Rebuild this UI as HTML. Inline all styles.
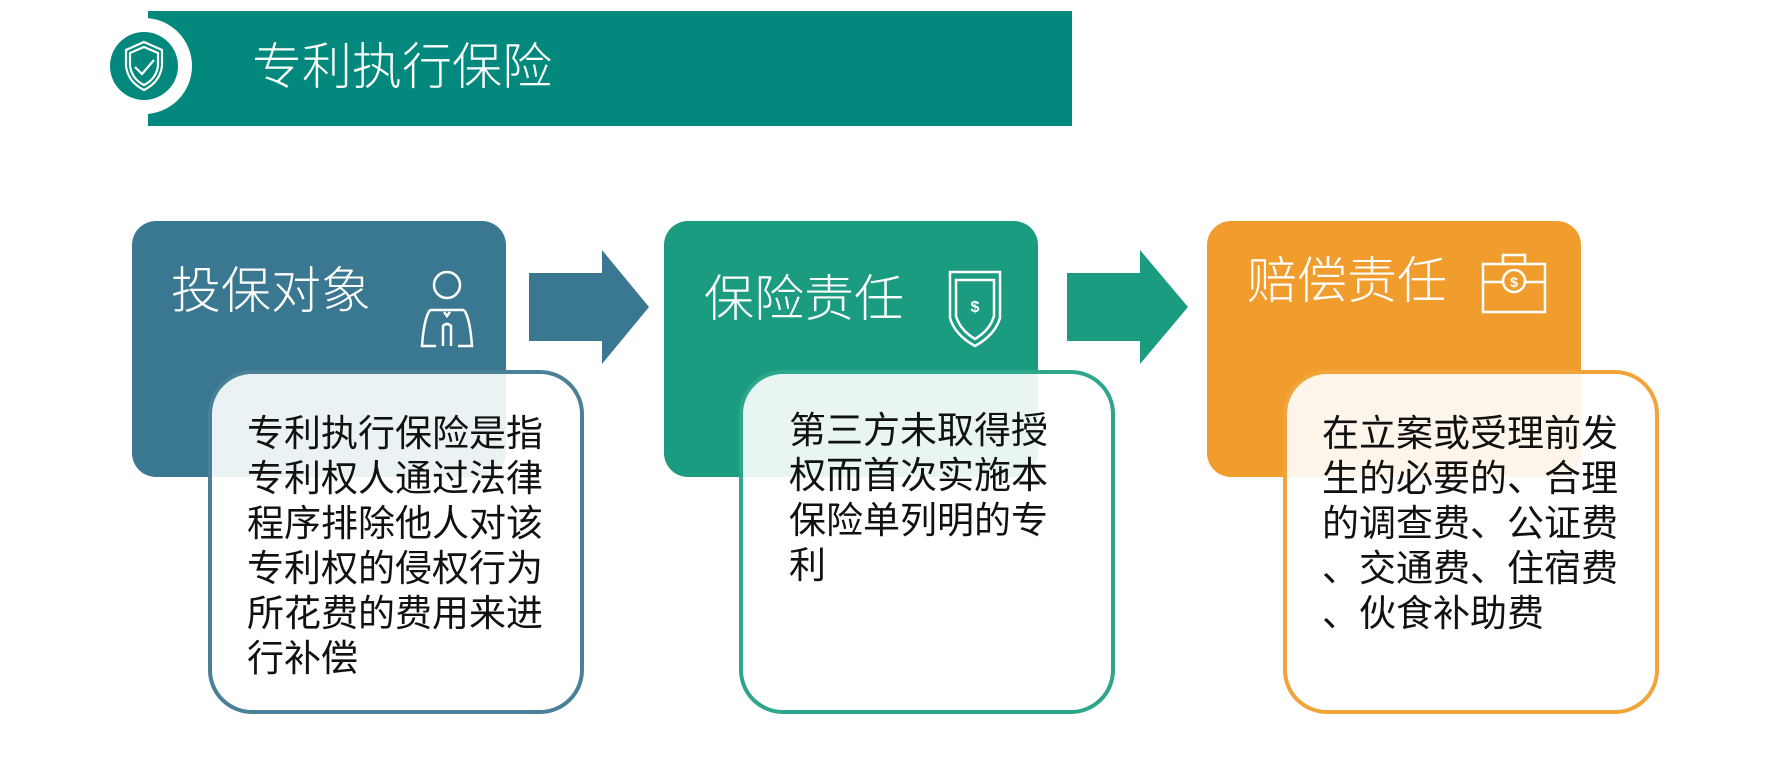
<!DOCTYPE html>
<html><head><meta charset="utf-8"><style>
*{margin:0;padding:0;box-sizing:border-box}
body{width:1768px;height:782px;background:#fff;position:relative;overflow:hidden;font-family:"Liberation Sans","Noto Sans CJK SC",sans-serif}
.a{position:absolute}
.hd{color:#fff;font-size:50px;line-height:50px;white-space:nowrap;font-weight:300}
.wb{position:absolute;top:370px;width:376px;height:344px;border:4px solid;border-radius:44px;background:rgba(255,255,255,0.9)}
.tx{position:absolute;font-size:37px;line-height:45px;color:#111;white-space:nowrap}
</style></head><body>
<div class="a" style="left:148px;top:11px;width:924px;height:115px;background:#02887c"></div>
<div class="a" style="left:96px;top:18px;width:96px;height:96px;border-radius:50%;background:#fff"></div>
<div class="a" style="left:110px;top:32px;width:68px;height:68px;border-radius:50%;background:#02887c"></div>
<svg class="a" style="left:110px;top:32px" width="68" height="68" viewBox="0 0 68 68" fill="none" stroke="#fff" stroke-width="2.2">
<path d="M34 10 L52 18 L52 34 Q50 50 34 58 Q18 50 16 34 L16 18 Z"/>
<path d="M34 15 L48 21 L48 34 Q46 47 34 53 Q22 47 20 34 L20 21 Z"/>
<path d="M25 35 L32 42 L44 28"/>
</svg>
<div class="a hd" style="left:252px;top:42px;font-size:50px">专利执行保险</div>

<div class="a" style="left:132px;top:221px;width:374px;height:256px;border-radius:24px;background:#3a7891"></div>
<div class="a" style="left:664px;top:221px;width:374px;height:256px;border-radius:24px;background:#1b9b80"></div>
<div class="a" style="left:1207px;top:221px;width:374px;height:256px;border-radius:24px;background:#f09d2d"></div>

<svg class="a" style="left:0;top:0" width="1768" height="782">
<polygon points="529,273 602,273 602,250 649,307 602,364 602,341 529,341" fill="#3a7891"/>
<polygon points="1067,273 1140,273 1140,250 1188,307 1140,364 1140,341 1067,341" fill="#1b9b80"/>
<g fill="none" stroke="#fff" stroke-width="2.5">
<circle cx="447" cy="285" r="13"/>
<path d="M430 310 L464 310 M430 310 Q424 318 422 346 L436 346 M464 310 Q470 318 472 346 L458 346 M443 346 L443 326 Q447 322 451 326 L451 346 M444 312 L447 316 L450 312"/>
<path d="M950 272 L1000 272 L1000 318 Q995 335 975 346 Q955 335 950 318 Z"/>
<path d="M956 280 L994 280 L994 316 Q990 330 975 339 Q960 330 956 316 Z"/>
<path d="M1483 264 L1545 264 L1545 312 L1483 312 Z M1483 282 L1545 282 M1503 264 L1503 255 L1525 255 L1525 264"/>
<circle cx="1514" cy="281" r="11" fill="#f09d2d"/>
</g>
<text x="975" y="312" fill="#fff" font-size="16" font-weight="bold" text-anchor="middle" font-family="Liberation Sans">$</text>
<text x="1514" y="287" fill="#fff" font-size="14" font-weight="bold" text-anchor="middle" font-family="Liberation Sans">$</text>
</svg>

<div class="a hd" style="left:171px;top:266px">投保对象</div>
<div class="a hd" style="left:704px;top:274px">保险责任</div>
<div class="a hd" style="left:1247px;top:256px">赔偿责任</div>

<div class="wb" style="left:208px;border-color:#4a8098"></div>
<div class="wb" style="left:739px;border-color:#2da68b"></div>
<div class="wb" style="left:1283px;border-color:#f0a43a"></div>

<div class="tx" style="left:247px;top:411px">专利执行保险是指<br>专利权人通过法律<br>程序排除他人对该<br>专利权的侵权行为<br>所花费的费用来进<br>行补偿</div>
<div class="tx" style="left:789px;top:408px">第三方未取得授<br>权而首次实施本<br>保险单列明的专<br>利</div>
<div class="tx" style="left:1322px;top:411px">在立案或受理前发<br>生的必要的、合理<br>的调查费、公证费<br>、交通费、住宿费<br>、伙食补助费</div>
</body></html>
